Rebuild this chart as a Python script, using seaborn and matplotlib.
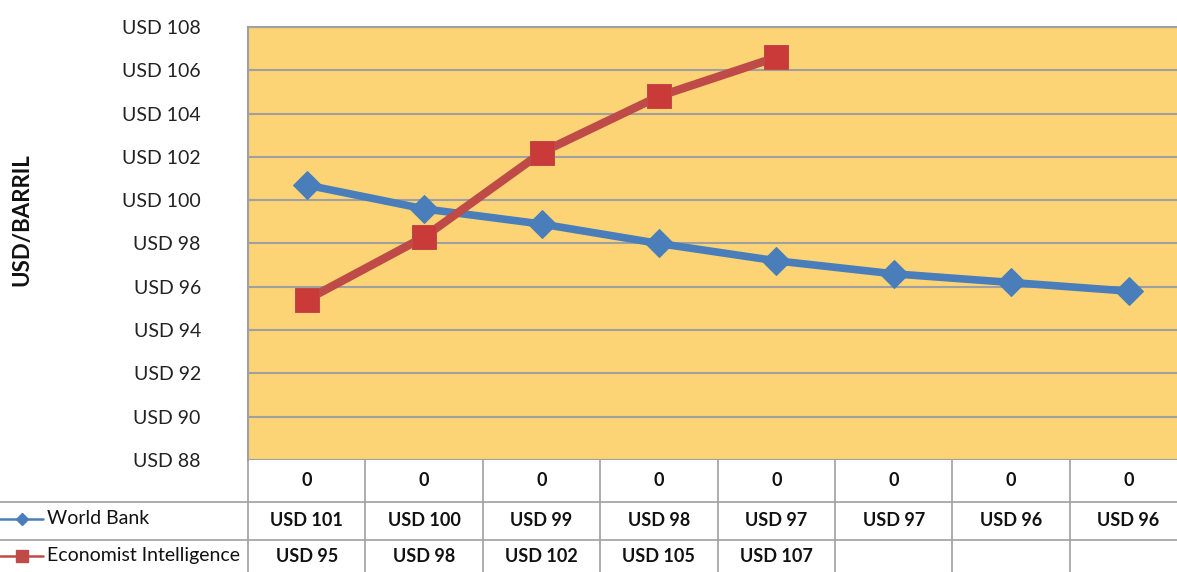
import numpy as np
import pandas as pd
import matplotlib
matplotlib.use("Agg")
import matplotlib.pyplot as plt
import matplotlib.transforms as mtransforms
from matplotlib.lines import Line2D
import seaborn as sns

# data
categories = ["0", "0", "0", "0", "0", "0", "0", "0"]
world_bank = [100.7, 99.6, 98.9, 98.0, 97.2, 96.6, 96.2, 95.8]
economist = [95.4, 98.3, 102.2, 104.8, 106.6, np.nan, np.nan, np.nan]
world_bank_labels = ["USD 101", "USD 100", "USD 99", "USD 98", "USD 97", "USD 97", "USD 96", "USD 96"]
economist_labels = ["USD 95", "USD 98", "USD 102", "USD 105", "USD 107", "", "", ""]
series_names = ["World Bank", "Economist Intelligence"]
y_ticks = list(range(88, 109, 2))

blue = "#4A7EBB"
red = "#BE4B48"
grid_gray = "#A0A0A0"
bg = "#FDD475"

sns.set_theme(style="white")
plt.rcParams["font.family"] = ["Lato", "DejaVu Sans"]

fig = plt.figure(figsize=(11.77, 5.72), dpi=100)
ax = fig.add_axes([248 / 1177, 1 - 460 / 572, 8 * 117.4 / 1177, 433 / 572])
ax.set_facecolor(bg)

x = np.arange(len(categories))
df = pd.DataFrame({"x": x, "World Bank": world_bank, "Economist Intelligence": economist})

sns.lineplot(data=df, x="x", y="World Bank", ax=ax, color=blue, linewidth=5.5,
             marker="D", markersize=14, markeredgecolor=blue, zorder=3)
sns.lineplot(data=df, x="x", y="Economist Intelligence", ax=ax, color=red, linewidth=6,
             marker="s", markersize=17, markerfacecolor="#C93A38", markeredgecolor=red, zorder=4)

ax.set_xlim(-0.5, len(categories) - 0.5)
ax.set_ylim(88, 108)
ax.set_yticks(y_ticks)
ax.set_yticklabels([f"USD {v}" for v in y_ticks], fontsize=14, color="#222222")
ax.tick_params(axis="y", length=0, pad=34)
ax.set_xticks([])
ax.set_xlabel("")
ax.set_ylabel("")
ax.grid(axis="y", color=grid_gray, linewidth=1.5)
ax.set_axisbelow(True)
for side, sp in ax.spines.items():
    sp.set_color(grid_gray)
    sp.set_linewidth(1.5)
ax.spines["right"].set_visible(False)
ax.spines["bottom"].set_visible(False)

fig.text(22 / 1177, 1 - 220 / 572, "USD/BARRIL", rotation=90, fontsize=16,
         fontweight="bold", ha="center", va="center", color="#111111")

# data table under the plot
trans = mtransforms.blended_transform_factory(ax.transData, ax.transAxes)
px = 1 / 433
row_lines = [0, -42 * px, -80 * px]
table_bottom = -120 * px
line_kw = dict(color=grid_gray, linewidth=1.2, clip_on=False)

for b in np.arange(-0.5, len(categories) + 0.5, 1):
    ax.plot([b, b], [0, table_bottom], transform=trans, **line_kw)
for yl in row_lines[1:]:
    fig.add_artist(Line2D([0, 1], [1 - (460 - yl / px) / 572] * 2,
                          transform=fig.transFigure, **line_kw))

row_y = [-21 * px, -61 * px, -97 * px]
for i in range(len(categories)):
    ax.text(x[i], row_y[0], categories[i], transform=trans, ha="center", va="center",
            fontsize=13, fontweight="bold", color="#111111")
    ax.text(x[i], row_y[1], world_bank_labels[i], transform=trans, ha="center", va="center",
            fontsize=13, fontweight="bold", color="#111111")
    ax.text(x[i], row_y[2], economist_labels[i], transform=trans, ha="center", va="center",
            fontsize=13, fontweight="bold", color="#111111")

# legend keys inside the table
for name, yy, col, mk, ms in [(series_names[0], 519, blue, "D", 6), (series_names[1], 556, red, "s", 8)]:
    yf = 1 - yy / 572
    fig.add_artist(Line2D([0, 43 / 1177], [yf, yf], transform=fig.transFigure, color=col, linewidth=1.8))
    fig.add_artist(Line2D([22 / 1177], [yf], transform=fig.transFigure, color=col,
                          marker=mk, markersize=ms, markeredgecolor=col))
    fig.text(47 / 1177, yf, name, fontsize=14, ha="left", va="center", color="#111111")

fig.savefig("out.png", dpi=100, facecolor="white")
